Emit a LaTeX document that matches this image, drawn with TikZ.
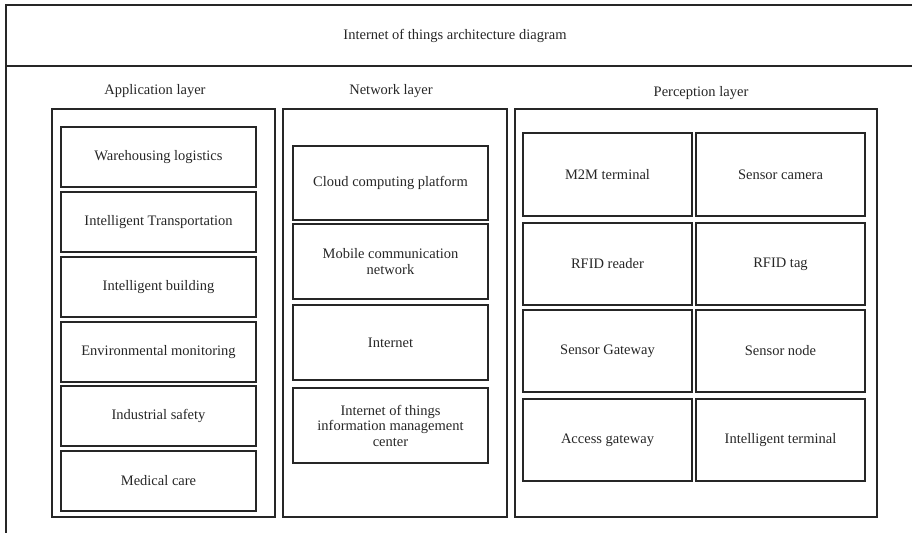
\documentclass[tikz,border=0pt]{standalone}
\usepackage{fontspec}
\setmainfont{Liberation Serif}
\begin{document}
\begin{tikzpicture}[x=1pt,y=-1pt,
  frame/.style={draw=black!85,line width=1.1pt},
  box/.style={draw=black!85,line width=1.1pt,rectangle,inner sep=0pt,align=center,
    font=\fontsize{14.5}{15.5}\selectfont,text=black!85},
  lbl/.style={inner sep=0pt,font=\fontsize{14.5}{15.5}\selectfont,text=black!85}]
\useasboundingbox (0,0) rectangle (912,533);
% outer frame (cropped at right and bottom)
\draw[frame] (912,5) -- (6,5) -- (6,533);
\draw[frame] (6,66) -- (912,66);
\node[lbl] (title) at (455,36) {Internet of things architecture diagram};
% layer labels
\node[lbl] (applbl) at (155,91) {Application layer};
\node[lbl] (netlbl) at (391,91) {Network layer};
\node[lbl] (perlbl) at (701,93) {Perception layer};
% layer containers
\node[box,minimum width=223,minimum height=408] (app) at (163.5,313) {};
\node[box,minimum width=224,minimum height=408] (net) at (395,313) {};
\node[box,minimum width=362,minimum height=408] (per) at (696,313) {};
% application layer
\node[box,minimum width=195,minimum height=60] (a1) at (158.5,157) {Warehousing logistics};
\node[box,minimum width=195,minimum height=60] (a2) at (158.5,222) {Intelligent Transportation};
\node[box,minimum width=195,minimum height=60] (a3) at (158.5,287) {Intelligent building};
\node[box,minimum width=195,minimum height=60] (a4) at (158.5,352) {Environmental monitoring};
\node[box,minimum width=195,minimum height=60] (a5) at (158.5,416) {Industrial safety};
\node[box,minimum width=195,minimum height=60] (a6) at (158.5,481) {Medical care};
% network layer
\node[box,minimum width=195,minimum height=74] (n1) at (390.5,183) {Cloud computing platform};
\node[box,minimum width=195,minimum height=75] (n2) at (390.5,261.5) {Mobile communication\\network};
\node[box,minimum width=195,minimum height=75] (n3) at (390.5,342.5) {Internet};
\node[box,minimum width=195,minimum height=75] (n4) at (390.5,425.5) {Internet of things\\information management\\center};
% perception layer
\node[box,minimum width=169,minimum height=83] (p1) at (607.5,174.5) {M2M terminal};
\node[box,minimum width=169,minimum height=83] (p2) at (780.5,174.5) {Sensor camera};
\node[box,minimum width=169,minimum height=82] (p3) at (607.5,264) {RFID reader};
\node[box,minimum width=169,minimum height=82] (p4) at (780.5,264) {RFID tag};
\node[box,minimum width=169,minimum height=82] (p5) at (607.5,351) {Sensor Gateway};
\node[box,minimum width=169,minimum height=82] (p6) at (780.5,351) {Sensor node};
\node[box,minimum width=169,minimum height=82] (p7) at (607.5,440) {Access gateway};
\node[box,minimum width=169,minimum height=82] (p8) at (780.5,440) {Intelligent terminal};
\end{tikzpicture}
\end{document}
